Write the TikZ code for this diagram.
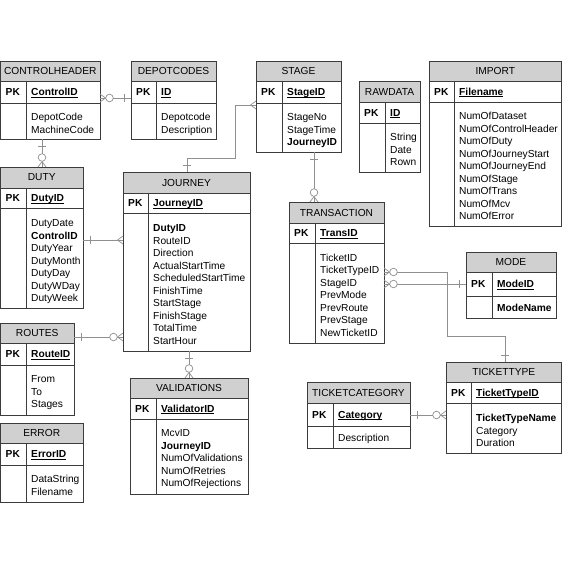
\documentclass[tikz,border=0pt]{standalone}
\usepackage{fontspec}
\setmainfont{Liberation Sans}
\usetikzlibrary{calc,fit}

\definecolor{hdrgray}{HTML}{D0D0D0}
\definecolor{edgegray}{HTML}{3C3C3C}
\definecolor{linkgray}{HTML}{909090}

% key attribute: underlined at the baseline
\newcommand\keyul[1]{\underline{\smash{#1}}}

\tikzset{
  boxline/.style={draw=edgegray, line width=0.9pt},
  hdrfill/.style={fill=hdrgray},
  conn/.style={draw=linkgray, line width=0.7pt},
  lbl/.style={inner sep=0pt, font=\fontsize{10.2}{12.5}\selectfont, text=black},
  % relationship end markers; local +x points away from the table edge
  erone/.pic={\draw[conn] (7,-4) -- (7,4);},
  ercrow/.pic={\draw[conn] (0,-4) -- (5.5,0) -- (0,4);},
  erzcrow/.pic={\draw[conn] (0,-4) -- (5.5,0) -- (0,4);
                \draw[conn, fill=white] (9.5,0) circle (3.8);},
}

% \entbox{name}{x1}{y1}{x2}{y2}{header bottom}{key row bottom}{divider x}{title}
\newcommand\entbox[9]{%
  \coordinate (#1-nw) at (#2,#3);
  \coordinate (#1-se) at (#4,#5);
  \coordinate (#1-h) at (#8,#6);
  \coordinate (#1-p) at (#8,#7);
  \coordinate (#1-k) at ($(#8,#6)!0.5!(#8,#7)$);
  \fill[hdrfill] (#2,#3) rectangle (#4,#6);
  \node[fit=(#1-nw)(#1-se), inner sep=0pt, outer sep=0pt, boxline] (#1) {};
  \draw[boxline] (#1.west |- #1-h) -- (#1.east |- #1-h)
                 (#1.west |- #1-p) -- (#1.east |- #1-p)
                 (#1-h) -- (#1-h |- #1.south);
  \node[lbl] (#1-title) at ($(#1.north)!0.5!(#1.north |- #1-h)$) {#9};
}

% \entfields{name}{primary key}{offset of first body line}{body lines}
\newcommand\entfields[4]{%
  \node[lbl, anchor=base west] (#1-pk) at ($(#1.west |- #1-k)+(5,3.7)$) {\textbf{PK}};
  \node[lbl, anchor=base west] (#1-key) at ($(#1-k)+(5,3.7)$) {\textbf{\keyul{#2}}};
  \node[lbl, anchor=north west, align=left] (#1-body) at ($(#1-p)+(5,#3-3.7)$) {#4};
}

\begin{document}
\begin{tikzpicture}[x=1pt, y=-1pt]
\useasboundingbox (0,0) rectangle (563,562);

% ---- tables ----
\entbox{controlheader}{0.5}{61}{100}{139}{81}{103}{26}{CONTROLHEADER}
\entfields{controlheader}{ControlID}{14}{DepotCode\\MachineCode}

\entbox{depotcodes}{131}{61}{216}{139}{81}{103}{156}{DEPOTCODES}
\entfields{depotcodes}{ID}{14}{Depotcode\\Description}

\entbox{stage}{256}{61}{341}{152}{81}{103}{282}{STAGE}
\entfields{stage}{StageID}{14}{StageNo\\StageTime\\\textbf{JourneyID}}

\entbox{rawdata}{359}{81}{420}{172}{102}{123}{385}{RAWDATA}
\entfields{rawdata}{ID}{14}{String\\Date\\Rown}

\entbox{import}{429}{61}{561.5}{226}{81}{102}{454}{IMPORT}
\entfields{import}{Filename}{14}{NumOfDataset\\NumOfControlHeader\\NumOfDuty\\NumOfJourneyStart\\NumOfJourneyEnd\\NumOfStage\\NumOfTrans\\NumOfMcv\\NumOfError}

\entbox{duty}{0.5}{167}{83}{308}{188}{208}{26}{DUTY}
\entfields{duty}{DutyID}{15}{DutyDate\\\textbf{ControlID}\\DutyYear\\DutyMonth\\DutyDay\\DutyWDay\\DutyWeek}

\entbox{journey}{123}{172}{250}{351}{193}{213}{148}{JOURNEY}
\entfields{journey}{JourneyID}{15}{\textbf{DutyID}\\RouteID\\Direction\\ActualStartTime\\ScheduledStartTime\\FinishTime\\StartStage\\FinishStage\\TotalTime\\StartHour}

\entbox{transaction}{289}{202}{384}{343}{223}{243}{315}{TRANSACTION}
\entfields{transaction}{TransID}{14.5}{TicketID\\TicketTypeID\\StageID\\PrevMode\\PrevRoute\\PrevStage\\NewTicketID}

\entbox{mode}{466}{252}{556}{318}{272}{296}{492}{MODE}
\entfields{mode}{ModeID}{12}{\textbf{ModeName}}

\entbox{routes}{0.5}{323}{74}{415}{343}{365}{26}{ROUTES}
\entfields{routes}{RouteID}{14}{From\\To\\Stages}

\entbox{validations}{130}{378}{248}{494}{398}{419}{156}{VALIDATIONS}
\entfields{validations}{ValidatorID}{14}{McvID\\\textbf{JourneyID}\\NumOfValidations\\NumOfRetries\\NumOfRejections}

\entbox{error}{0.5}{423}{83}{502}{443}{465}{26}{ERROR}
\entfields{error}{ErrorID}{14}{DataString\\Filename}

\entbox{ticketcategory}{307}{382}{410}{448}{403}{426}{333}{TICKETCATEGORY}
\entfields{ticketcategory}{Category}{12}{Description}

\entbox{tickettype}{446}{362}{561.5}{453}{382}{403}{471}{TICKETTYPE}
\entfields{tickettype}{TicketTypeID}{15}{\textbf{TicketTypeName}\\Category\\Duration}

% ---- relationships ----
\draw[conn] (controlheader.east |- 0,98) -- (depotcodes.west |- 0,98);
\draw[conn] (controlheader.south -| 42,0) -- (duty.north -| 42,0);
\draw[conn] (duty.east |- 0,240) -- (journey.west |- 0,240);
\draw[conn] (routes.east |- 0,337) -- (journey.west |- 0,337);
\draw[conn] (journey.north -| 187,0) |- (235,158) |- (stage.west |- 0,105);
\draw[conn] (stage.south -| 314,0) -- (transaction.north -| 314,0);
\draw[conn] (journey.south -| 189,0) -- (validations.north -| 189,0);
\draw[conn] (transaction.east |- 0,284) -- (mode.west |- 0,284);
\draw[conn] (transaction.east |- 0,272) -| (447,336) -| (tickettype.north -| 505,0);
\draw[conn] (ticketcategory.east |- 0,415) -- (tickettype.west |- 0,415);

% ---- end markers ----
\pic at (controlheader.east |- 0,98) {erzcrow};
\pic[rotate=180] at (depotcodes.west |- 0,98) {erone};
\pic[rotate=-90] at (controlheader.south -| 42,0) {erone};
\pic[rotate=90] at (duty.north -| 42,0) {erzcrow};
\pic at (duty.east |- 0,240) {erone};
\pic[rotate=180] at (journey.west |- 0,240) {ercrow};
\pic at (routes.east |- 0,337) {erone};
\pic[rotate=180] at (journey.west |- 0,337) {erzcrow};
\pic[rotate=90] at (journey.north -| 187,0) {erone};
\pic[rotate=180] at (stage.west |- 0,105) {ercrow};
\pic[rotate=-90] at (stage.south -| 314,0) {erone};
\pic[rotate=90] at (transaction.north -| 314,0) {erzcrow};
\pic[rotate=-90] at (journey.south -| 189,0) {erone};
\pic[rotate=90] at (validations.north -| 189,0) {erzcrow};
\pic at (transaction.east |- 0,284) {erzcrow};
\pic[rotate=180] at (mode.west |- 0,284) {erone};
\pic at (transaction.east |- 0,272) {erzcrow};
\pic[rotate=90] at (tickettype.north -| 505,0) {erone};
\pic at (ticketcategory.east |- 0,415) {erone};
\pic[rotate=180] at (tickettype.west |- 0,415) {erzcrow};
\end{tikzpicture}
\end{document}
